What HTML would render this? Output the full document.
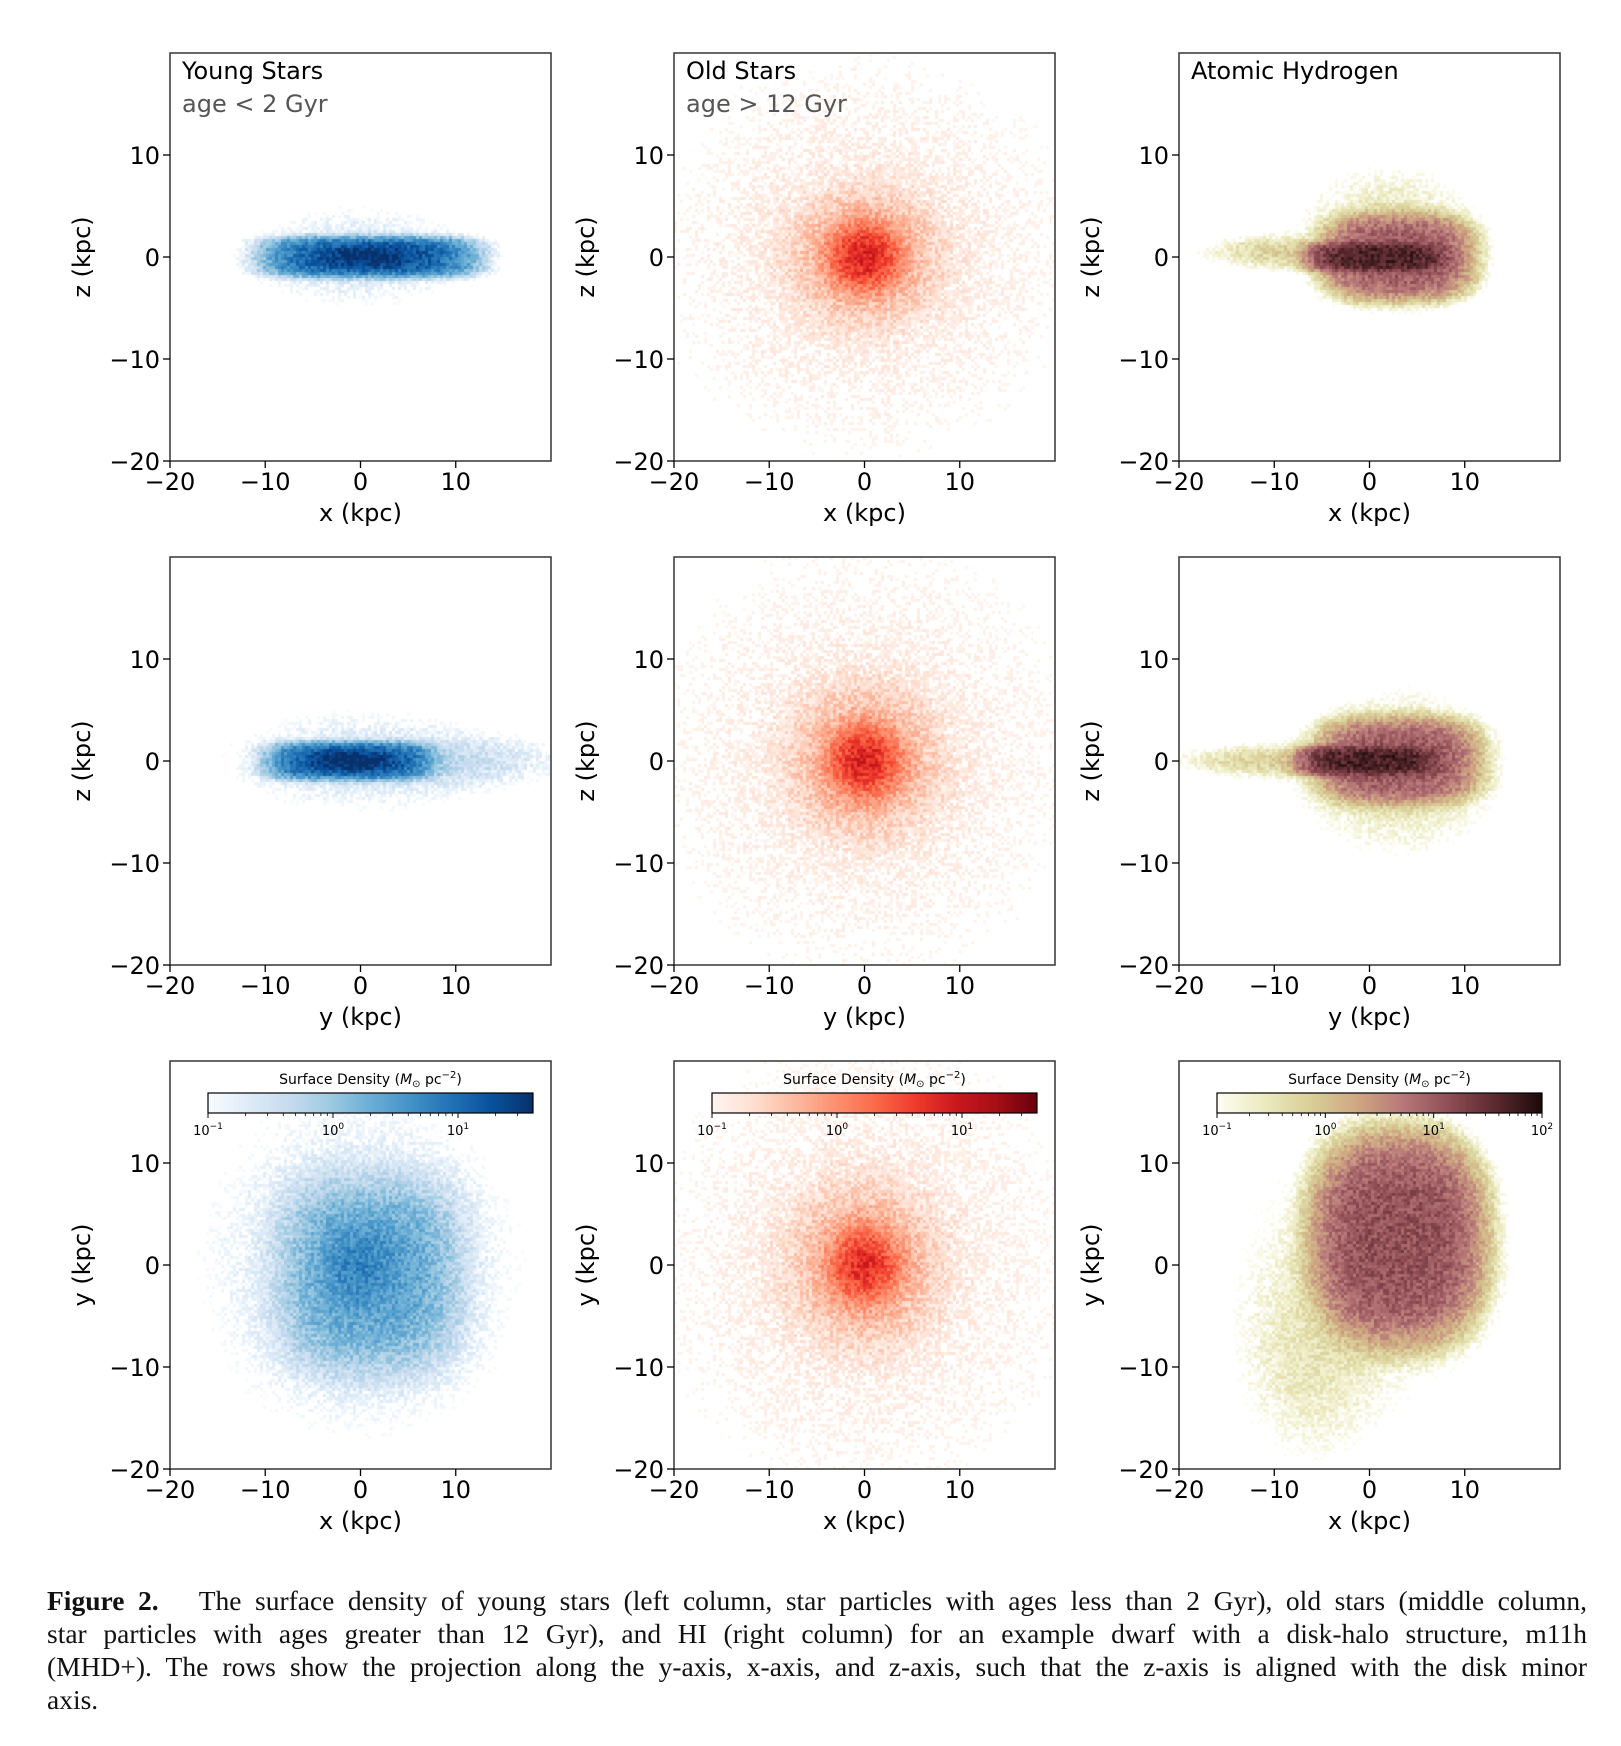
<!DOCTYPE html>
<html><head><meta charset="utf-8">
<style>
body{margin:0;background:#fff;width:1621px;height:1746px;position:relative;overflow:hidden;font-family:"DejaVu Sans","Liberation Sans",sans-serif}
canvas{position:absolute}
svg{position:absolute;left:0;top:0;font-family:"DejaVu Sans","Liberation Sans",sans-serif}
.cap{position:absolute;left:47px;width:1540px;font-family:"Liberation Serif",serif;font-size:27.5px;color:#111;text-align:justify;text-align-last:justify;white-space:nowrap}
.cap.last{text-align-last:left}
</style></head>
<body>
<svg id="axes" width="1621" height="1746"></svg>
<div class="cap" style="top:1585px"><b>Figure 2.</b>&nbsp;&nbsp; The surface density of young stars (left column, star particles with ages less than 2 Gyr), old stars (middle column,</div>
<div class="cap" style="top:1618px">star particles with ages greater than 12 Gyr), and HI (right column) for an example dwarf with a disk-halo structure, m11h</div>
<div class="cap" style="top:1651px">(MHD+). The rows show the projection along the y-axis, x-axis, and z-axis, such that the z-axis is aligned with the disk minor</div>
<div class="cap last" style="top:1684px">axis.</div>
<script>
// ---- data ----
const ticks = [-20, -10, 0, 10];
const tickLabels = ["\u221220", "\u221210", "0", "10"];
const titles = ["Young Stars", "Old Stars", "Atomic Hydrogen"];
const subtitles = ["age < 2 Gyr", "age > 12 Gyr", ""];
const cbarMax = [1.6, 1.6, 2.0];
const cbarTickLabels = [["-1","0","1"],["-1","0","1"],["-1","0","1","2"]];
// density components: panel index = row*3+col
const compPanel = [0,0,0, 3,3,3,3, 6,6,6, 1,1,1, 4,4,4, 7,7,7, 2,2,2,2, 5,5,5,5, 8,8,8];
const compCx    = [1,1,0, -1,-1,10,0, 1,0,0, 0,0,0, 0,0,0, 0,0,0, 3,1,-9,2, 3,0,-10,3, 3,-6,0];
const compCy    = [0,0,0, 0,0,0,0, -1,0,0, 0,0,0, 0,0,0, 0,0,0, 0,0,0.5,2, 0,0,0,-1, 2.5,-9,0];
const compSx    = [9,4,10, 7,3.5,9,12, 7.5,3,14, 2.5,6,25, 2.5,6,25, 2.5,6,25, 6.5,6,6,7, 7,6,7,8, 7.5,6,12];
const compSy    = [1.6,0.9,4, 1.5,0.8,2,4, 7.5,3,14, 2.2,5,22, 2.3,5.5,24, 2.5,6,25, 3.5,1.2,1.2,5, 3.5,1.2,1.2,6, 8.5,8,12];
const compAmp   = [1.1,1.5,-0.6, 1.1,1.6,-0.5,-0.6, 0.4,0.5,-0.6, 0.8,-0.2,-0.9, 0.8,-0.2,-0.9, 0.7,-0.2,-0.9, 1.0,1.6,-0.2,-0.4, 1.0,1.6,-0.2,-0.4, 1.1,-0.6,-0.8];
const compBox   = [4,2,2, 4,2,2,2, 3,2,2, 2,2,2, 2,2,2, 2,2,2, 3,4,2,2, 3,4,2,2, 2.5,2,2];
const compPow   = [4,2,2, 4,2,2,2, 3,2,2, 2,2,2, 2,2,2, 2,2,2, 4,4,2,2, 4,4,2,2, 4,2,2];

const cmaps = [
 ["#f7fbff","#deebf7","#c6dbef","#9ecae1","#6baed6","#4292c6","#2171b5","#08519c","#08306b"],
 ["#fff5f0","#fee0d2","#fcbba1","#fc9272","#fb6a4a","#ef3b2c","#cb181d","#a50f15","#67000d"],
 ["#fdfdf5","#ecebc0","#d9cf98","#cfa882","#b8787a","#8f4d55","#5a2a2e","#1c0a0a"]];
// ---- layout ----
const colL = [170, 674, 1179], rowT = [53, 557, 1061], PW = 381, PH = 408;
const NS = "http://www.w3.org/2000/svg";
const svg = document.getElementById("axes");
function hex(h){return [parseInt(h.substr(1,2),16),parseInt(h.substr(3,2),16),parseInt(h.substr(5,2),16)];}
function cmap(c,t){const s=cmaps[c];t=Math.max(0,Math.min(1,t));const f=t*(s.length-1);const i=Math.min(s.length-2,Math.floor(f));const a=hex(s[i]),b=hex(s[i+1]),u=f-i;return [0,1,2].map(k=>Math.round(a[k]+(b[k]-a[k])*u));}
function hash(i,j,p){let h=(i*374761393+j*668265263+p*2147483647)|0;h=(h^(h>>>13))*1274126177|0;return ((h^(h>>>16))>>>0)/4294967295;}
function el(tag,attrs,txt){const e=document.createElementNS(NS,tag);for(const k in attrs)e.setAttribute(k,attrs[k]);if(txt!==undefined)e.textContent=txt;svg.appendChild(e);return e;}

for(let r=0;r<3;r++)for(let c=0;c<3;c++){
  const p=r*3+c, L=colL[c], T=rowT[r];
  const sx=v=>L+(v+20)/40*PW, sy=v=>T+PH-(v+20)/40*PH;
  const cv=document.createElement("canvas");cv.width=PW;cv.height=PH;cv.style.left=L+"px";cv.style.top=T+"px";
  
  
  document.body.insertBefore(cv,svg);
  const ctx=cv.getContext("2d");const cell=3;
  for(let i=0;i<PW;i+=cell)for(let j=0;j<PH;j+=cell){
    const X=(i+1.5)/PW*40-20, Y=20-(j+1.5)/PH*40;
    let s=0;
    for(let k=0;k<compPanel.length;k++){if(compPanel[k]!==p)continue;
      const u=Math.abs(X-compCx[k])/compSx[k], v=Math.abs(Y-compCy[k])/compSy[k], b=compBox[k];
      const R=Math.pow(Math.pow(u,b)+Math.pow(v,b),1/b);
      s+=Math.pow(10,compAmp[k])*Math.exp(-Math.pow(R,compPow[k]));}
    let lg=Math.log10(s+1e-9)+(hash(i,j,p)-0.5)*0.55;
    if(lg<-1)continue;
    const col=cmap(c,(lg+1)/(cbarMax[c]+1));
    ctx.fillStyle="rgb("+col.join(",")+")";ctx.fillRect(i,j,cell,cell);
  }
  const fr=el("rect",{x:L,y:T,width:PW,height:PH,fill:"none",stroke:"#333","stroke-width":1.5});
  
  
  ticks.forEach((t,ti)=>{
    el("line",{x1:sx(t),x2:sx(t),y1:T+PH,y2:T+PH+7,stroke:"#000","stroke-width":1.3});
    el("line",{x1:L,x2:L-7,y1:sy(t),y2:sy(t),stroke:"#000","stroke-width":1.3});
    const xt=el("text",{x:sx(t),y:T+PH+29,"text-anchor":"middle","font-size":24},tickLabels[ti]);
    
    
    const yt=el("text",{x:L-10,y:sy(t)+9,"text-anchor":"end","font-size":24},tickLabels[ti]);
    
    
  });
  const xl=el("text",{x:L+PW/2,y:T+PH+60,"text-anchor":"middle","font-size":24},r===1?"y (kpc)":"x (kpc)");
  
  
  const yx=L-80, yy=T+PH/2;
  const yl=el("text",{x:yx,y:yy,"text-anchor":"middle","font-size":24,transform:"rotate(-90 "+yx+" "+yy+")"},r===2?"y (kpc)":"z (kpc)");
  
  
  if(r===0){
    const tt=el("text",{x:L+12,y:T+26,"font-size":24},titles[c]);
    
    
    if(subtitles[c]){const st=el("text",{x:L+12,y:T+59,"font-size":24,fill:"#555"},subtitles[c]);
      
      }
  }
  if(r===2){
    const bx=L+38,bw=325,by=1093,bh=20,ndec=cbarMax[c]+1;
    const gid="g"+c;const defs=el("defs",{});const lg=document.createElementNS(NS,"linearGradient");lg.setAttribute("id",gid);defs.appendChild(lg);
    cmaps[c].forEach((s,k)=>{const st=document.createElementNS(NS,"stop");st.setAttribute("offset",k/(cmaps[c].length-1));st.setAttribute("stop-color",s);lg.appendChild(st);});
    const cb=el("rect",{x:bx,y:by,width:bw,height:bh,fill:"url(#"+gid+")",stroke:"#000","stroke-width":1.2});
    
    
    const ct=el("text",{x:bx+bw/2,y:by-9,"text-anchor":"middle","font-size":14},"");
    ct.innerHTML='Surface Density (<tspan font-style="italic">M</tspan><tspan font-size="10" dy="3">\u2299</tspan><tspan dy="-3"> pc</tspan><tspan font-size="10" dy="-6">\u22122</tspan><tspan dy="6">)</tspan>';
    
    
    cbarTickLabels[c].forEach((d,k)=>{
      const px=bx+k/ndec*bw;
      el("line",{x1:px,x2:px,y1:by+bh,y2:by+bh+5,stroke:"#000"});
      const tl=el("text",{x:px,y:by+bh+22,"text-anchor":"middle","font-size":13},"");
      tl.innerHTML='10<tspan font-size="9" dy="-6">'+(d==="-1"?"\u22121":d)+'</tspan>';
      
      
      for(let m=2;m<10;m++){const mx=px+Math.log10(m)/ndec*bw;if(mx<bx+bw)el("line",{x1:mx,x2:mx,y1:by+bh,y2:by+bh+3,stroke:"#000","stroke-width":0.8});}
    });
  }
}
</script>
</body></html>
